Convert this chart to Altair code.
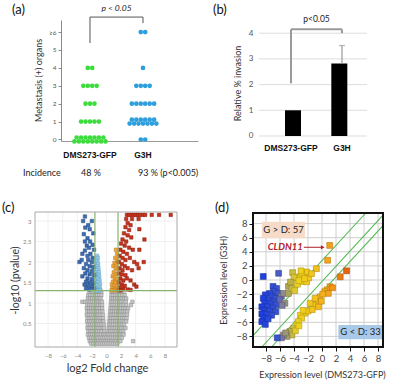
import altair as alt
import pandas as pd

W, H = 394, 380
FONT = "Lato"
BOLD = "Liberation Sans"

# ---------------- (a) metastasis counts per mouse ----------------
a_groups = ["DMS273-GFP", "G3H"]
a_levels = [0, 1, 2, 3, 4, 5, 6]
a_counts_dms = [15, 5, 3, 4, 2, 0, 0]
a_counts_g3h = [2, 13, 6, 4, 1, 0, 2]
a_incidence = ["48 %", "93 % (p<0.005)"]
a_colors = ["#3ddc3d", "#2e9fdc"]

# ---------------- (b) invasion assay ----------------
b_groups = ["DMS273-GFP", "G3H"]
b_values = [1.0, 2.82]
b_err_top = [1.0, 3.52]
b_grid = [0, 1, 2, 3, 4]

# ---------------- (c) volcano plot ----------------
c_blue = [(-2.95, 3.11), (-2.0, 3.0), (-3.2, 3.0), (-2.5, 2.9), (-2.9, 2.84), (-2.3, 2.8),
          (-1.8, 2.7), (-3.1, 2.68), (-2.6, 2.58), (-2.25, 2.5), (-2.95, 2.5), (-2.7, 2.4),
          (-1.9, 2.42), (-2.4, 2.35), (-1.7, 2.3), (-2.95, 2.28), (-2.2, 2.2), (-3.3, 2.2),
          (-2.6, 2.15), (-1.9, 2.1), (-3.7, 2.0), (-3.4, 2.05), (-2.5, 2.05), (-2.0, 2.0),
          (-2.8, 1.95), (-2.3, 1.9), (-1.8, 1.88), (-3.1, 1.85), (-2.6, 1.8), (-2.0, 1.78),
          (-2.9, 1.72), (-2.3, 1.7), (-1.7, 1.68), (-3.3, 1.65), (-2.6, 1.6), (-2.0, 1.58),
          (-2.8, 1.52), (-2.3, 1.5), (-1.8, 1.48), (-3.0, 1.45), (-2.5, 1.42), (-2.0, 1.4),
          (-2.8, 1.36), (-2.3, 1.33), (-1.7, 1.35)]
c_lightblue = [(-1.3, 2.15), (-1.2, 2.1), (-1.4, 2.05), (-1.25, 2.0), (-1.45, 1.95), (-1.15, 1.95),
               (-1.35, 1.9), (-1.5, 1.85), (-1.1, 1.85), (-1.3, 1.8), (-1.45, 1.75), (-1.05, 1.75),
               (-1.25, 1.7), (-1.55, 1.68), (-1.0, 1.65), (-1.4, 1.62), (-1.2, 1.6), (-0.95, 1.55),
               (-1.55, 1.55), (-1.35, 1.5), (-1.1, 1.5), (-0.9, 1.45), (-1.5, 1.45), (-1.25, 1.42),
               (-1.0, 1.38), (-1.6, 1.36), (-1.4, 1.35), (-0.85, 1.33), (-1.15, 1.32), (-1.5, 1.31),
               (-0.95, 1.31), (-1.3, 1.3)]
c_orange = [(1.3, 2.3), (1.45, 2.2), (1.2, 2.1), (1.5, 2.05), (1.1, 1.98), (1.4, 1.95), (0.95, 1.9),
            (1.25, 1.85), (1.55, 1.82), (1.0, 1.75), (1.35, 1.7), (0.85, 1.65), (1.15, 1.6),
            (1.5, 1.58), (0.9, 1.52), (1.25, 1.5), (0.75, 1.45), (1.05, 1.42), (1.45, 1.4),
            (0.8, 1.36), (1.2, 1.34), (0.95, 1.31), (1.5, 1.31), (0.7, 1.31)]
c_red = [(2.8, 3.15), (3.1, 3.15), (3.4, 3.15), (3.7, 3.15), (4.0, 3.15), (4.3, 3.15), (4.6, 3.15),
         (5.0, 3.15), (5.3, 3.15), (6.2, 3.15), (7.2, 3.15), (8.8, 3.15),
         (2.7, 3.05), (3.5, 3.05), (4.4, 3.05), (2.9, 2.95), (3.3, 2.9), (2.6, 2.85), (3.1, 2.78),
         (4.5, 2.8), (2.4, 2.7), (2.9, 2.65), (3.4, 2.6), (2.2, 2.55), (2.7, 2.5), (5.2, 2.55),
         (2.0, 2.45), (2.5, 2.4), (3.1, 2.35), (1.9, 2.3), (2.3, 2.25), (2.8, 2.2), (3.6, 2.3),
         (4.5, 2.3), (1.8, 2.15), (2.2, 2.1), (2.6, 2.05), (3.2, 2.1), (3.8, 2.0), (1.7, 2.0),
         (2.1, 1.95), (2.5, 1.9), (4.2, 1.95), (5.1, 2.0), (1.8, 1.85), (2.2, 1.8), (2.9, 1.85),
         (3.5, 1.8), (4.4, 1.85), (1.7, 1.72), (2.1, 1.7), (2.6, 1.68), (1.9, 1.6), (2.3, 1.55),
         (2.8, 1.6), (3.3, 1.55), (1.7, 1.5), (2.1, 1.45), (2.5, 1.42), (3.8, 1.45), (1.8, 1.38),
         (2.3, 1.35), (2.9, 1.33), (1.7, 1.31), (2.0, 1.31), (3.3, 1.32), (4.1, 1.4)]
# non-significant genes, one list of log2FC values per -log10(p) row
c_gray_rows = [
    (1.27, [-2.35, -2.05, -1.75, -1.45, -1.15, -0.9, -0.7, 0.7, 0.95, 1.25, 1.55, 1.85, 2.1, 2.35]),
    (1.19, [-2.5, -2.2, -1.9, -1.6, -1.3, -1.0, -0.7, 0.68, 0.95, 1.25, 1.55, 1.85, 2.15, 2.5]),
    (1.11, [-2.55, -2.25, -1.95, -1.65, -1.35, -1.05, -0.8, 0.65, 0.9, 1.2, 1.5, 1.8, 2.1, 2.4, 2.7]),
    (1.03, [-3.3, -2.95, -2.6, -2.3, -2.0, -1.7, -1.4, -1.1, -0.85, -0.62, 0.62, 0.85, 1.15, 1.45,
            1.75, 2.05, 2.35, 2.65, 3.55]),
    (0.95, [-2.65, -2.35, -2.05, -1.75, -1.45, -1.15, -0.85, -0.6, 0.58, 0.85, 1.15, 1.45, 1.75,
            2.05, 2.35, 2.7, 3.35]),
    (0.87, [-2.7, -2.4, -2.1, -1.8, -1.5, -1.2, -0.9, -0.58, 0.55, 0.8, 1.1, 1.4, 1.7, 2.0, 2.3,
            2.6, 2.95]),
    (0.79, [-2.65, -2.35, -2.05, -1.75, -1.45, -1.15, -0.85, -0.55, 0.5, 0.75, 1.05, 1.35, 1.65,
            1.95, 2.25, 2.55, 2.85]),
    (0.71, [-2.7, -2.4, -2.1, -1.8, -1.5, -1.2, -0.9, -0.5, 0.47, 0.7, 1.0, 1.3, 1.6, 1.9, 2.2,
            2.5, 2.8]),
    (0.63, [-2.6, -2.3, -2.0, -1.7, -1.4, -1.1, -0.8, -0.47, 0.44, 0.65, 0.95, 1.25, 1.55, 1.85,
            2.15, 2.45, 2.75]),
    (0.55, [-2.65, -2.35, -2.05, -1.75, -1.45, -1.15, -0.85, -0.6, -0.42, 0.4, 0.6, 0.9, 1.2, 1.5,
            1.8, 2.1, 2.4, 2.7]),
    (0.47, [-2.55, -2.25, -1.95, -1.65, -1.35, -1.05, -0.75, -0.38, 0.36, 0.6, 0.9, 1.2, 1.5, 1.8,
            2.1, 2.4]),
    (0.39, [-2.6, -2.3, -2.0, -1.7, -1.4, -1.1, -0.8, -0.55, -0.34, 0.32, 0.55, 0.85, 1.15, 1.45,
            1.75, 2.05, 2.35, 2.6]),
    (0.31, [-2.5, -2.2, -1.9, -1.6, -1.3, -1.0, -0.7, -0.3, 0.28, 0.5, 0.8, 1.1, 1.4, 1.7, 2.0, 2.3]),
    (0.23, [-2.55, -2.25, -1.95, -1.65, -1.35, -1.05, -0.75, -0.45, -0.2, 0.05, 0.3, 0.6, 0.9, 1.2,
            1.5, 1.8, 2.1, 2.35]),
    (0.15, [-2.4, -2.1, -1.8, -1.5, -1.2, -0.9, -0.6, -0.3, 0.0, 0.3, 0.6, 0.9, 1.2, 1.5, 1.8, 2.1]),
    (0.07, [-2.3, -2.0, -1.7, -1.4, -1.1, -0.8, -0.5, -0.2, 0.1, 0.4, 0.7, 1.0, 1.3, 1.6, 1.9, 3.65]),
    (0.01, [-2.1, -1.8, -1.5, -1.2, -0.9, -0.6, -0.3, 0.0, 0.3, 0.6, 0.9, 1.2, 1.5]),
]
c_fc_cut = 1.585
c_p_cut = 1.301
c_grid_x = [-8, -6, -4, -2, 0, 2, 4, 6, 8]
c_grid_y = [0.5, 1.0, 1.5, 2.0, 2.5, 3.0]

# ---------------- (d) expression scatter ----------------
d_up = [(-8.4, 0.5), (-6.2, 0.95), (-7.0, -0.9), (-6.5, -1.2), (-6.9, -1.6), (-6.3, -1.9),
        (-7.5, -1.9), (-8.1, -2.1), (-7.1, -2.4), (-6.6, -2.6), (-8.4, -2.6), (-7.6, -2.9),
        (-6.9, -3.1), (-8.2, -3.3), (-7.4, -3.4), (-6.5, -3.5), (-8.6, -3.8), (-7.8, -3.8),
        (-7.0, -4.0), (-8.3, -4.3), (-7.5, -4.4), (-6.6, -4.5), (-8.6, -4.8), (-7.9, -4.9),
        (-7.2, -5.0), (-8.4, -5.4), (-7.7, -5.5), (-8.6, -5.9), (-8.1, -6.3),
        (-5.8, -2.3), (-5.5, -1.9), (-6.0, -2.8), (-5.3, -3.3), (-5.7, -3.6), (-4.8, -0.9),
        (-4.8, -1.9), (-4.3, -1.2),
        (-4.2, 1.05), (-3.6, 0.3), (-3.1, 0.5), (-2.5, 0.85), (-2.2, 1.15), (-2.8, -0.2),
        (-2.2, -0.25), (-3.9, -1.5), (-3.5, -0.6), (-2.9, 0.95), (-4.0, 0.4), (-1.9, 0.3),
        (-3.3, -0.1), (-2.5, 0.2), (-0.8, 1.6), (-1.5, 0.9), (-3.0, 1.3), (-4.5, -0.3),
        (1.1, 4.9), (0.8, 2.8)]
d_down = [(3.5, 1.3), (2.6, 0.45), (1.15, -0.95), (0.7, -1.4), (0.4, -1.65), (1.5, -1.1), (0.9, -1.9),
          (-0.3, -2.4), (-0.75, -3.1), (-1.25, -3.55), (-0.5, -3.8), (-1.7, -3.3), (-0.1, -3.0),
          (-1.0, -2.6), (-2.4, -4.7), (-3.1, -5.0), (-2.9, -5.4), (-3.4, -5.9), (-3.6, -6.4),
          (-2.0, -4.4), (-2.7, -4.3), (-4.1, -6.9), (-4.6, -7.3), (-4.3, -7.8), (-5.0, -8.0),
          (-3.8, -7.2), (-3.3, -6.5), (-5.5, -7.8), (-5.8, -8.2), (-5.2, -7.5), (-6.4, -8.2),
          (-1.4, -4.2), (0.1, -2.0)]
d_lines = [((-9.86, -7.9), (6.25, 9.5)), ((-8.6, -9.5), (8.71, 9.2)), ((-7.2, -9.5), (8.71, 7.7))]
d_ticks = [-8, -6, -4, -2, 0, 2, 4, 6, 8]
d_color_stops = [-8.5, -6.3, -5.5, -4.6, -3.6, -1.0, 1.0, 3.5]
d_fill = ["#1f3fe8", "#3a55d0", "#8c8c8c", "#b9ae4a", "#ecd41e", "#f3c21e", "#f4a21e", "#e8650e"]
d_edge = ["#1a2f9a", "#2c3f96", "#666666", "#867d30", "#b89f10", "#b88e10", "#b8760e", "#a84808"]


def sc(domain, rng):
    return alt.Scale(domain=domain, range=rng, nice=False, zero=False)


def segs(rows):
    return pd.DataFrame(rows, columns=["x", "y", "x2", "y2"])


def rule_layer(df, sx, sy, **style):
    return alt.Chart(df).mark_rule(**style).encode(
        x=alt.X("x:Q", scale=sx, axis=None), y=alt.Y("y:Q", scale=sy, axis=None),
        x2="x2:Q", y2="y2:Q")


def text_layer(df, sx, sy, **style):
    return alt.Chart(df).mark_text(**style).encode(
        x=alt.X("x:Q", scale=sx, axis=None), y=alt.Y("y:Q", scale=sy, axis=None), text="t:N")


layers = []

# ================= (a) =================
SX_A = sc([0.453, 3.038], [61, 198])
SY_A = sc([-0.084, 6.676], [141, 20])
DOT_STEP = 0.084
pts = []
for gi, (g, counts) in enumerate(zip(a_groups, [a_counts_dms, a_counts_g3h]), start=1):
    for lvl, n in zip(a_levels, counts):
        split = [(n, 0.0)] if n <= 7 else [(n // 2, 0.11), (n - n // 2, -0.11)]
        for cnt, dy in split:
            for i in range(cnt):
                pts.append({"group": g, "x": gi + (i - (cnt - 1) / 2) * DOT_STEP, "y": lvl + dy})
df_a = pd.DataFrame(pts)

layers.append(alt.Chart(df_a).mark_circle(size=22, opacity=1).encode(
    x=alt.X("x:Q", scale=SX_A, axis=alt.Axis(
        orient="bottom", offset=141 - H, labels=False, ticks=False, grid=False,
        domainColor="#9a9a9a", title=None)),
    y=alt.Y("y:Q", scale=SY_A, axis=alt.Axis(
        orient="left", offset=-61, values=a_levels, grid=False,
        labelExpr="datum.value == 6 ? '≥6' : datum.label",
        domainColor="#8a8a8a", tickColor="#8a8a8a", tickSize=3, labelFontSize=6.5,
        labelColor="#555", labelPadding=2, title="Metastasis (+) organs", titleFontSize=9,
        titleFontWeight="normal", titleColor="#333", titleX=-23, titleY=80, titleAngle=270,
        titleAlign="center", titleBaseline="middle")),
    color=alt.Color("group:N", scale=alt.Scale(domain=a_groups, range=a_colors), legend=None),
))
layers.append(rule_layer(segs([(1, 5.39, 1, 6.84), (1, 6.84, 2, 6.84), (2, 6.5, 2, 6.84)]),
                         SX_A, SY_A, color="#555", strokeWidth=1))
layers.append(text_layer(pd.DataFrame({"x": [1.5], "y": [7.35], "t": ["p < 0.05"]}), SX_A, SY_A,
                         font=FONT, fontSize=8.5, fontStyle="italic", color="#222"))
layers.append(text_layer(pd.DataFrame({"x": [1, 2], "y": [-0.87, -0.87], "t": a_groups}), SX_A, SY_A,
                         font=BOLD, fontSize=8.5, fontWeight="bold", color="#111"))
layers.append(text_layer(pd.DataFrame({"x": [-0.264], "y": [-1.87], "t": ["Incidence"]}), SX_A, SY_A,
                         font=FONT, fontSize=9, align="left", color="#222"))
layers.append(text_layer(pd.DataFrame({"x": [1.02], "y": [-1.87], "t": [a_incidence[0]]}), SX_A, SY_A,
                         font=FONT, fontSize=9, color="#222"))
layers.append(text_layer(pd.DataFrame({"x": [1.906], "y": [-1.87], "t": [a_incidence[1]]}), SX_A, SY_A,
                         font=FONT, fontSize=9, align="left", color="#222"))

# ================= (b) =================
SX_B = sc([0.373, 2.49], [259, 367])
SY_B = sc([-0.195, 4.514], [141, 20])
layers.append(rule_layer(segs([(0.373, v, 2.49, v) for v in b_grid]), SX_B, SY_B,
                         color="#dddddd", strokeWidth=1))
df_b = pd.DataFrame({"x": [1, 2], "v": b_values, "top": b_err_top, "t": b_groups})
layers.append(alt.Chart(df_b).mark_bar(size=16, color="black").encode(
    x=alt.X("x:Q", scale=SX_B, axis=None),
    y=alt.Y("v:Q", scale=SY_B, axis=alt.Axis(
        orient="left", offset=-259, values=b_grid, grid=False, domain=False, ticks=False,
        labelFontSize=8, labelColor="#555", labelPadding=6, title="Relative % invasion",
        titleFontSize=9, titleFontWeight="normal", titleColor="#333", titleX=-22, titleY=83,
        titleAngle=270, titleAlign="center", titleBaseline="middle")),
    y2=alt.Y2(datum=0),
))
df_b_err = df_b[df_b["top"] > df_b["v"]]
layers.append(alt.Chart(df_b_err).mark_rule(color="#999", strokeWidth=1.2).encode(
    x=alt.X("x:Q", scale=SX_B, axis=None), y=alt.Y("v:Q", scale=SY_B, axis=None), y2="top:Q"))
layers.append(alt.Chart(df_b_err).mark_tick(orient="horizontal", size=6, thickness=1.2,
                                            color="#999").encode(
    x=alt.X("x:Q", scale=SX_B, axis=None), y=alt.Y("top:Q", scale=SY_B, axis=None)))
layers.append(rule_layer(segs([(1, 2.05, 1, 4.15), (1, 4.15, 2, 4.15), (2, 4.0, 2, 4.15)]),
                         SX_B, SY_B, color="#9a9a9a", strokeWidth=2))
layers.append(text_layer(pd.DataFrame({"x": [1.5], "y": [4.55], "t": ["p<0.05"]}), SX_B, SY_B,
                         font=FONT, fontSize=8.5, color="#222"))
layers.append(text_layer(pd.DataFrame({"x": [1, 2], "y": [-0.47, -0.47], "t": b_groups}), SX_B, SY_B,
                         font=BOLD, fontSize=8.5, fontWeight="bold", color="#111"))

# ================= (c) =================
C_XD, C_YD = [-9.79, 9.66], [-0.073, 3.22]
SX_C = sc(C_XD, [35, 177])
SY_C = sc(C_YD, [347, 212])
layers.append(rule_layer(segs([(g, C_YD[0], g, C_YD[1]) for g in c_grid_x]
                              + [(C_XD[0], g, C_XD[1], g) for g in c_grid_y]),
                         SX_C, SY_C, color="#ececec", strokeWidth=0.8))
vol = []
for yv, xs in c_gray_rows:
    vol += [{"x": xv, "y": yv, "grp": "ns"} for xv in xs]
for name, lst in [("fc_down", c_lightblue), ("down", c_blue), ("fc_up", c_orange), ("up", c_red)]:
    vol += [{"x": xv, "y": yv, "grp": name} for xv, yv in lst]
grp_dom = ["ns", "fc_down", "down", "fc_up", "up"]
layers.append(alt.Chart(pd.DataFrame(vol)).mark_square(size=12, filled=True, opacity=1,
                                                      strokeWidth=0.5).encode(
    x=alt.X("x:Q", scale=SX_C, axis=alt.Axis(
        orient="bottom", offset=347 - H, values=c_grid_x, grid=False, domain=False, ticks=False,
        labelFontSize=6, labelColor="#888", labelPadding=5, title="log2 Fold change",
        titleFontSize=11, titleFontWeight="normal", titleColor="#333", titleX=107, titleY=21,
        titleBaseline="middle")),
    y=alt.Y("y:Q", scale=SY_C, axis=alt.Axis(
        orient="left", offset=-35, values=c_grid_y, format="~g", grid=False, domain=False,
        ticks=False, labelFontSize=6, labelColor="#888", labelPadding=4,
        title="-log10 (pvalue)", titleFontSize=10.5, titleFontWeight="normal", titleColor="#333",
        titleX=-20, titleY=280, titleAngle=270, titleAlign="center", titleBaseline="middle")),
    fill=alt.Fill("grp:N", scale=alt.Scale(domain=grp_dom,
                  range=["#c6c6c6", "#9ccfe8", "#3d6db2", "#f0a535", "#c8321e"]), legend=None),
    stroke=alt.Stroke("grp:N", scale=alt.Scale(domain=grp_dom,
                      range=["#8a8a8a", "#5d9fc2", "#27497e", "#b87a22", "#8a2010"]), legend=None),
))
layers.append(rule_layer(segs([(-c_fc_cut, C_YD[0], -c_fc_cut, C_YD[1]),
                               (c_fc_cut, C_YD[0], c_fc_cut, C_YD[1]),
                               (C_XD[0], c_p_cut, C_XD[1], c_p_cut)]),
                         SX_C, SY_C, color="#86b46e", strokeWidth=1.2))
layers.append(alt.Chart(pd.DataFrame({"x": [C_XD[0]], "x2": [C_XD[1]], "y": [C_YD[0]], "y2": [C_YD[1]]}))
              .mark_rect(fillOpacity=0, stroke="#a8a8a8", strokeWidth=1).encode(
    x=alt.X("x:Q", scale=SX_C, axis=None), y=alt.Y("y:Q", scale=SY_C, axis=None),
    x2="x2:Q", y2="y2:Q"))

# ================= (d) =================
D_XD, D_YD = [-9.86, 8.71], [-9.5, 9.5]
SX_D = sc(D_XD, [253, 383])
SY_D = sc(D_YD, [347, 213])
layers.append(rule_layer(segs([(g, D_YD[0], g, D_YD[1]) for g in d_ticks]
                              + [(D_XD[0], g, D_XD[1], g) for g in d_ticks]),
                         SX_D, SY_D, color="#cfcfcf", strokeWidth=1))
layers.append(rule_layer(segs([(a[0], a[1], b[0], b[1]) for a, b in d_lines]), SX_D, SY_D,
                         color="#4fb84f", strokeWidth=1.1))
df_d = pd.DataFrame([{"x": xv, "y": yv} for xv, yv in d_down + d_up])
layers.append(alt.Chart(df_d).mark_square(size=34, filled=True, opacity=1, strokeWidth=0.6).encode(
    x=alt.X("x:Q", scale=SX_D, axis=alt.Axis(
        orient="bottom", offset=347 - H, values=d_ticks, grid=False, domain=False, tickSize=4,
        tickColor="#111", labelFontSize=9.5, labelColor="#444", labelPadding=2,
        title="Expression level (DMS273-GFP)", titleFontSize=9, titleFontWeight="normal",
        titleColor="#333", titleX=322, titleY=27, titleBaseline="middle")),
    y=alt.Y("y:Q", scale=SY_D, axis=alt.Axis(
        orient="left", offset=-253, values=d_ticks, grid=False, domain=False, tickSize=4,
        tickColor="#111", labelFontSize=9.5, labelColor="#444", labelPadding=2,
        title="Expression level (G3H)", titleFontSize=9, titleFontWeight="normal",
        titleColor="#333", titleX=-30, titleY=280, titleAngle=270, titleAlign="center",
        titleBaseline="middle")),
    fill=alt.Fill("x:Q", scale=alt.Scale(domain=d_color_stops, range=d_fill, clamp=True), legend=None),
    stroke=alt.Stroke("x:Q", scale=alt.Scale(domain=d_color_stops, range=d_edge, clamp=True), legend=None),
))
df_box = pd.DataFrame({"x": [-8.6, 2.33], "x2": [-2.43, 8.67], "y": [5.92, -8.41], "y2": [8.27, -6.38],
                       "c": ["gt", "lt"]})
layers.append(alt.Chart(df_box).mark_rect().encode(
    x=alt.X("x:Q", scale=SX_D, axis=None), y=alt.Y("y:Q", scale=SY_D, axis=None),
    x2="x2:Q", y2="y2:Q",
    color=alt.Color("c:N", scale=alt.Scale(domain=["gt", "lt"], range=["#f6dcc8", "#a9c9e9"]),
                    legend=None)))
layers.append(text_layer(pd.DataFrame({"x": [-5.5, 5.5], "y": [7.1, -7.4], "t": ["G > D: 57", "G < D: 33"]}),
                         SX_D, SY_D, font=FONT, fontSize=9.5, color="#222"))
layers.append(text_layer(pd.DataFrame({"x": [-2.75], "y": [4.64], "t": ["CLDN11"]}), SX_D, SY_D,
                         font=FONT, fontSize=9.5, fontWeight="bold", fontStyle="italic",
                         align="right", color="#b0202a"))
layers.append(rule_layer(segs([(-2.6, 4.64, 0.0, 4.64)]), SX_D, SY_D, color="#b0202a", strokeWidth=1))
layers.append(alt.Chart(pd.DataFrame({"x": [0.1], "y": [4.64]})).mark_point(
    shape="triangle-right", size=18, filled=True, opacity=1, color="#b0202a").encode(
    x=alt.X("x:Q", scale=SX_D, axis=None), y=alt.Y("y:Q", scale=SY_D, axis=None)))
layers.append(alt.Chart(pd.DataFrame({"x": [D_XD[0]], "x2": [D_XD[1]], "y": [D_YD[0]], "y2": [D_YD[1]]}))
              .mark_rect(fillOpacity=0, stroke="#111", strokeWidth=2).encode(
    x=alt.X("x:Q", scale=SX_D, axis=None), y=alt.Y("y:Q", scale=SY_D, axis=None),
    x2="x2:Q", y2="y2:Q"))

# ================= panel letters =================
for label, px, py in [("(a)", 12, 10), ("(b)", 213, 10), ("(c)", 2, 208), ("(d)", 215, 208)]:
    layers.append(alt.Chart(alt.Data(values=[{}])).mark_text(
        text=label, font=FONT, fontSize=13, align="left", baseline="middle", color="#111").encode(
        x=alt.value(px), y=alt.value(py)))

chart = alt.layer(*layers).resolve_scale(
    x="independent", y="independent", color="independent", fill="independent", stroke="independent"
).properties(
    width=W, height=H, padding=0, autosize=alt.AutoSizeParams(type="none")
).configure_view(stroke=None).configure_axis(labelFont=FONT, titleFont=FONT)

chart.save("out.html", embed_options={"renderer": "svg", "actions": False})
